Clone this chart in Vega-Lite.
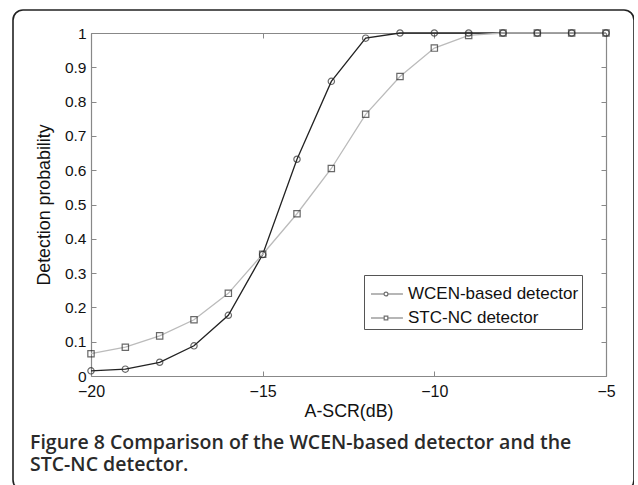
{
  "$schema": "https://vega.github.io/schema/vega-lite/v6.json",
  "width": 621,
  "height": 480,
  "padding": {"left": 13, "top": 10, "right": 0, "bottom": 0},
  "background": "white",
  "config": {
    "view": {"stroke": "#222", "strokeWidth": 1.6, "cornerRadius": 10},
    "font": "Liberation Sans",
    "axis": {
      "domainColor": "#888", "tickColor": "#888", "grid": false,
      "labelColor": "#111", "titleColor": "#111",
      "labelFont": "Liberation Sans", "titleFont": "Liberation Sans",
      "labelFontSize": 15.5, "titleFontSize": 17.8, "titleFontWeight": "normal",
      "tickSize": -5, "domainWidth": 1.2, "tickWidth": 1
    }
  },
  "title": {
    "text": ["Figure 8 Comparison of the WCEN-based detector and the", "STC-NC detector."],
    "orient": "bottom", "anchor": "start", "frame": "group",
    "offset": -56, "dx": 17,
    "font": "Open Sans", "fontSize": 19.5, "fontWeight": 600, "color": "#2a2a2a", "lineHeight": 21.5
  },
  "data": {
    "values": [
      {"x": -20, "series": "WCEN-based detector", "p": 0.015},
      {"x": -19, "series": "WCEN-based detector", "p": 0.02},
      {"x": -18, "series": "WCEN-based detector", "p": 0.04},
      {"x": -17, "series": "WCEN-based detector", "p": 0.088},
      {"x": -16, "series": "WCEN-based detector", "p": 0.177},
      {"x": -15, "series": "WCEN-based detector", "p": 0.354},
      {"x": -14, "series": "WCEN-based detector", "p": 0.632},
      {"x": -13, "series": "WCEN-based detector", "p": 0.859},
      {"x": -12, "series": "WCEN-based detector", "p": 0.985},
      {"x": -11, "series": "WCEN-based detector", "p": 1.0},
      {"x": -10, "series": "WCEN-based detector", "p": 1.0},
      {"x": -9, "series": "WCEN-based detector", "p": 1.0},
      {"x": -8, "series": "WCEN-based detector", "p": 1.0},
      {"x": -7, "series": "WCEN-based detector", "p": 1.0},
      {"x": -6, "series": "WCEN-based detector", "p": 1.0},
      {"x": -5, "series": "WCEN-based detector", "p": 1.0},
      {"x": -20, "series": "STC-NC detector", "p": 0.065},
      {"x": -19, "series": "STC-NC detector", "p": 0.084},
      {"x": -18, "series": "STC-NC detector", "p": 0.117},
      {"x": -17, "series": "STC-NC detector", "p": 0.164},
      {"x": -16, "series": "STC-NC detector", "p": 0.241},
      {"x": -15, "series": "STC-NC detector", "p": 0.355},
      {"x": -14, "series": "STC-NC detector", "p": 0.473},
      {"x": -13, "series": "STC-NC detector", "p": 0.605},
      {"x": -12, "series": "STC-NC detector", "p": 0.763},
      {"x": -11, "series": "STC-NC detector", "p": 0.873},
      {"x": -10, "series": "STC-NC detector", "p": 0.956},
      {"x": -9, "series": "STC-NC detector", "p": 0.993},
      {"x": -8, "series": "STC-NC detector", "p": 1.0},
      {"x": -7, "series": "STC-NC detector", "p": 1.0},
      {"x": -6, "series": "STC-NC detector", "p": 1.0},
      {"x": -5, "series": "STC-NC detector", "p": 1.0}
    ]
  },
  "resolve": {"axis": {"x": "independent", "y": "independent"}, "scale": {"shape": "independent"}},
  "layer": [
    {
      "mark": {"type": "line", "strokeWidth": 1.3},
      "encoding": {
        "x": {
          "field": "x", "type": "quantitative",
          "scale": {"domain": [-20, -5], "range": [78, 593], "nice": false, "zero": false},
          "axis": {"orient": "bottom", "offset": -114, "values": [-20, -15, -10, -5], "title": "A-SCR(dB)",
                   "labelFlush": false, "labelPadding": 12, "labelFontSize": 16, "titlePadding": 3, "labelOverlap": false}
        },
        "y": {
          "field": "p", "type": "quantitative",
          "scale": {"domain": [0, 1], "range": [366, 23], "nice": false, "zero": false},
          "axis": {"orient": "left", "offset": -78, "values": [0, 0.1, 0.2, 0.3, 0.4, 0.5, 0.6, 0.7, 0.8, 0.9, 1],
                   "format": ".1~f", "title": "Detection probability", "labelPadding": 10, "titlePadding": 11,
                   "labelOverlap": false}
        },
        "color": {
          "field": "series", "type": "nominal",
          "scale": {"domain": ["WCEN-based detector", "STC-NC detector"], "range": ["#222222", "#bbbbbb"]},
          "legend": null
        }
      }
    },
    {
      "mark": {"type": "point", "filled": false, "strokeWidth": 1.2, "size": 40, "color": "#2a2a2a"},
      "encoding": {
        "x": {
          "field": "x", "type": "quantitative",
          "axis": {"orient": "top", "offset": -23, "values": [-20, -15, -10, -5], "labels": false, "title": null}
        },
        "y": {
          "field": "p", "type": "quantitative",
          "axis": {"orient": "right", "offset": -28, "values": [0, 0.1, 0.2, 0.3, 0.4, 0.5, 0.6, 0.7, 0.8, 0.9, 1],
                   "labels": false, "title": null}
        },
        "shape": {
          "field": "series", "type": "nominal",
          "scale": {"domain": ["WCEN-based detector", "STC-NC detector"], "range": ["circle", "square"]},
          "legend": null
        }
      }
    },
    {
      "transform": [{"filter": "datum.p > 1"}],
      "mark": {"type": "point", "filled": false, "strokeWidth": 1.2, "color": "#333333"},
      "encoding": {
        "x": {"field": "x", "type": "quantitative", "axis": null},
        "y": {"field": "p", "type": "quantitative", "axis": null},
        "shape": {
          "field": "series", "type": "nominal",
          "scale": {
            "domain": ["WCEN-based detector", "STC-NC detector"],
            "range": [
              "M-0.8,0H0.07M0.33,0H1.33M0.07,0A0.13,0.13,0,1,1,0.33,0A0.13,0.13,0,1,1,0.07,0",
              "M-0.8,0H0.08M0.32,0H1.33M0.08,-0.12H0.32V0.12H0.08Z"
            ]
          },
          "legend": {
            "orient": "none", "legendX": 351, "legendY": 265, "title": null,
            "symbolSize": 900, "symbolStrokeWidth": 1.2, "symbolStrokeColor": "#333333",
            "labelFont": "Liberation Sans", "labelFontSize": 17, "labelColor": "#111", "labelOffset": 9,
            "labelLimit": 400,
            "strokeColor": "#555", "fillColor": "white", "padding": 3, "rowPadding": -3
          }
        }
      }
    }
  ]
}
